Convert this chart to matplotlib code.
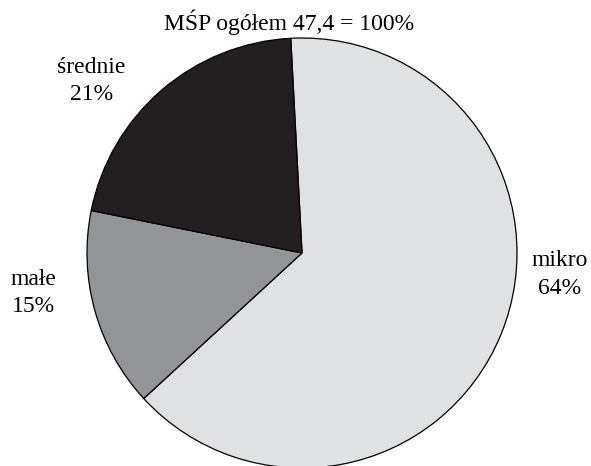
import matplotlib
matplotlib.use("Agg")
import matplotlib.pyplot as plt

# data
categories = ["mikro", "małe", "średnie"]
shares = [64, 15, 21]
colors = ["#e0e1e3", "#939497", "#231f20"]
title = "MŚP ogółem 47,4 = 100%"

plt.rcParams['font.family'] = ['Liberation Serif', 'DejaVu Serif']

fig = plt.figure(figsize=(5.91, 4.66), dpi=100)
# axes exactly around the pie (center ~ (302, 253) px, radius ~ 215 px)
ax = fig.add_axes([87 / 591, -2 / 466, 430 / 591, 430 / 466])

ax.pie(shares, colors=colors, startangle=93, counterclock=False,
       wedgeprops=dict(edgecolor="black", linewidth=0.9), radius=1.0)
ax.set_xlim(-1, 1)
ax.set_ylim(-1, 1)
ax.set_aspect("equal")
ax.axis("off")

# label positions in data units (outside the pie)
label_pos = {"mikro": (1.2, -0.10), "małe": (-1.25, -0.185), "średnie": (-0.98, 0.80)}
for cat, val in zip(categories, shares):
    x, y = label_pos[cat]
    ax.text(x, y, f"{cat}\n{val}%", ha="center", va="center", fontsize=17,
            linespacing=1.4, clip_on=False)

fig.text(289 / 591, 1 - 30 / 466, title, ha="center", va="baseline", fontsize=17)

fig.savefig("out.png", dpi=100)
